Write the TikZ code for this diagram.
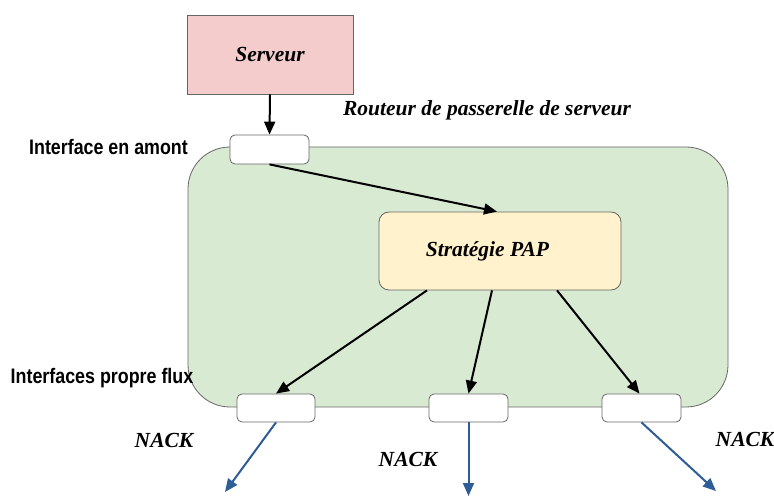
\documentclass[tikz,border=0pt]{standalone}
\usepackage{fontspec}
\setmainfont{Liberation Serif}
\newfontfamily\labelsans{Liberation Sans}
\usetikzlibrary{arrows.meta,calc}
\definecolor{srvfill}{HTML}{F4CCCC}
\definecolor{routerfill}{HTML}{D9EAD3}
\definecolor{papfill}{HTML}{FFF2CC}
\definecolor{boxline}{HTML}{666666}
\definecolor{nackblue}{HTML}{2D5C96}
\tikzset{
  itfont/.style={font=\fontsize{21.5}{23}\selectfont\bfseries\itshape},
  srvbox/.style={draw=boxline, fill=srvfill, line width=0.8pt, minimum width=166pt, minimum height=79pt, itfont},
  routerbox/.style={draw=boxline, fill=routerfill, line width=0.8pt, rounded corners=42pt,
    minimum width=540pt, minimum height=260pt},
  papbox/.style={draw=boxline, fill=papfill, line width=0.8pt, rounded corners=10pt,
    minimum width=242pt, minimum height=78pt, itfont},
  ifbox/.style={draw=boxline, fill=white, line width=0.8pt, rounded corners=5pt,
    minimum width=79pt, minimum height=29pt},
  italabel/.style={itfont, inner sep=0pt},
  sanslabel/.style={font=\labelsans\fontsize{21}{23}\selectfont\bfseries, inner sep=0pt},
  arr/.style={-{Triangle[length=13pt,width=11pt]}, line width=2pt, black},
  nack/.style={-{Triangle[length=13pt,width=11pt]}, line width=2pt, nackblue},
}
\begin{document}
\begin{tikzpicture}[x=1pt,y=-1pt]
\useasboundingbox (0,0) rectangle (774,502);

% router body
\node[routerbox] (router) at (458,277) {};

% server and strategy
\node[srvbox] (srv) at (270,54.5) {Serveur};
\node[papbox] (pap) at (500,251) {\hspace*{-25pt}Stratégie PAP};

% interfaces
\node[ifbox] (up) at (269.5,149.5) {};
\node[ifbox, minimum width=78pt, minimum height=28pt] (d1) at (276,408) {};
\node[ifbox, minimum height=28pt] (d2) at (468.5,408) {};
\node[ifbox, minimum height=28pt] (d3) at (641.5,408) {};

% labels
\node[italabel] (rlab) at (487,110) {Routeur de passerelle de serveur};
\node[sanslabel] (uplab) at (108.5,147) {\scalebox{0.85}[1]{Interface en amont}};
\node[sanslabel] (dnlab) at (102,378) {\scalebox{0.85}[1]{Interfaces propre flux}};
\node[italabel] (n1) at (164,440) {NACK};
\node[italabel] (n2) at (408,459) {NACK};
\node[italabel] (n3) at (745,439) {NACK};

% outgoing ends
\coordinate (o1) at (225,492);
\coordinate (o2) at (468.5,496);
\coordinate (o3) at (716,491);

% connectors
\draw[arr] (srv.south) -- (up.north);
\draw[arr] (up.south) -- ($(pap.north)+(-3,0)$);
\draw[arr] ($(pap.south)+(-73,0)$) -- (d1.north);
\draw[arr] ($(pap.south)+(-8,0)$) -- (d2.north);
\draw[arr] ($(pap.south)+(57,0)$) -- ($(d3.north)+(-2,0)$);
\draw[nack] (d1.south) -- (o1);
\draw[nack] (d2.south) -- (o2);
\draw[nack] (d3.south) -- (o3);
\end{tikzpicture}
\end{document}
